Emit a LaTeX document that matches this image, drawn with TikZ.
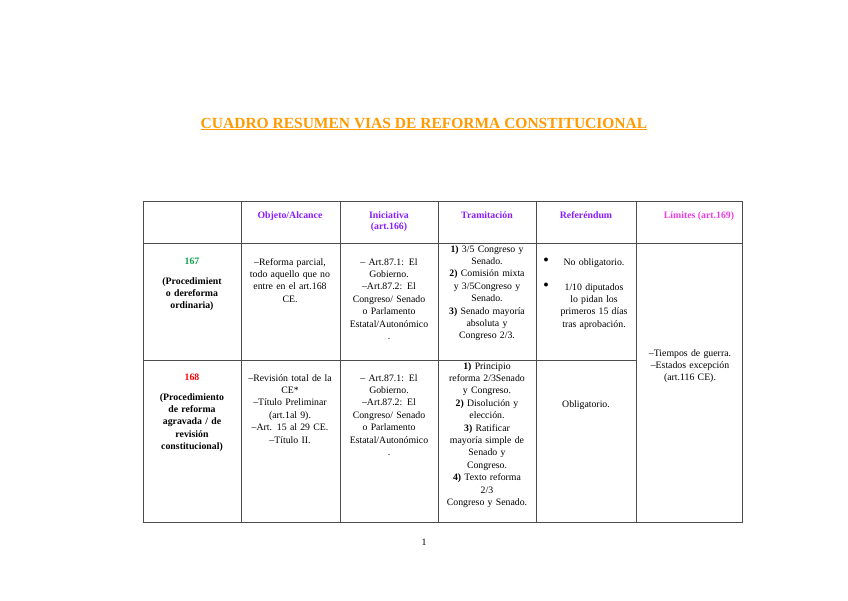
\documentclass[tikz,border=0pt]{standalone}
\usepackage{fontspec}
\setmainfont{Liberation Serif}
\begin{document}
\begin{tikzpicture}[x=1pt,y=-1pt,
  cell/.style={anchor=north,align=center,inner sep=0pt,font=\fontsize{9.8}{12.4}\selectfont},
  hdr/.style={cell,font=\fontsize{9.8}{11}\selectfont\bfseries,text=purp},
  grid/.style={draw=black!70,line width=0.8pt}]
\definecolor{purp}{HTML}{8A1CFF}
\definecolor{mag}{HTML}{F03CE6}
\definecolor{grn}{HTML}{12A050}
\definecolor{org}{HTML}{FF9A00}
\useasboundingbox (0,0) rectangle (848,600);
\node[font=\fontsize{15.5}{17}\selectfont\bfseries,text=org] (title) at (424,124) {\underline{CUADRO RESUMEN VIAS DE REFORMA CONSTITUCIONAL}};
% grid
\draw[grid] (143,201) rectangle (742,522);
\foreach \x in {241,340,438,536,636} \draw[grid] (\x,201) -- (\x,522);
\draw[grid] (143,243) -- (742,243);
\draw[grid] (143,360) -- (636,360);
% headers
\node[hdr] (h1) at (290,211) {Objeto/Alcance};
\node[hdr] (h2) at (389,211) {Iniciativa\\(art.166)};
\node[hdr] (h3) at (487,211) {Tramitación};
\node[hdr] (h4) at (586,211) {Referéndum};
\node[hdr,text=mag] (h5) at (699,211) {Límites (art.169)};
% row 1
\node[cell,text width=80] (a1) at (192,258) {\textcolor{grn}{\textbf{167}}\\[7pt]\textbf{(Procedimient\\o dereforma\\ordinaria)}};
\node[cell,text width=96] (b1) at (290,258) {--Reforma parcial,\\todo aquello que no\\entre en el art.168\\CE.};
\node[cell,text width=96] (c1) at (389,258) {-- Art.87.1: El\\Gobierno.\\--Art.87.2: El\\Congreso/ Senado\\o Parlamento\\Estatal/Autonómico\\.};
\node[cell,text width=96] (d1) at (487,245) {\textbf{1)} 3/5 Congreso y\\Senado.\\\textbf{2)} Comisión mixta\\y 3/5Congreso y\\Senado.\\\textbf{3)} Senado mayoría\\absoluta y\\Congreso 2/3.};
\node[cell] (e1b) at (546,258) {$\bullet$};
\node[cell,text width=70] (e1) at (594,258) {No obligatorio.};
\node[cell] (e2b) at (546,283) {$\bullet$};
\node[cell,text width=70] (e2) at (594,283) {1/10 diputados\\lo pidan los\\primeros 15 días\\tras aprobación.};
\node[cell,text width=100] (f1) at (690,349) {--Tiempos de guerra.\\--Estados excepción\\(art.116 CE).};
% row 2
\node[cell,text width=90] (a2) at (192,374) {\textcolor{red}{\textbf{168}}\\[7pt]\textbf{(Procedimiento\\de reforma\\agravada / de\\revisión\\constitucional)}};
\node[cell,text width=98] (b2) at (290,374) {--Revisión total de la\\CE*\\--Título Preliminar\\(art.1al 9).\\--Art. 15 al 29 CE.\\--Título II.};
\node[cell,text width=96] (c2) at (389,374) {-- Art.87.1: El\\Gobierno.\\--Art.87.2: El\\Congreso/ Senado\\o Parlamento\\Estatal/Autonómico\\.};
\node[cell,text width=96] (d2) at (487,362) {\textbf{1)} Principio\\reforma 2/3Senado\\y Congreso.\\\textbf{2)} Disolución y\\elección.\\\textbf{3)} Ratificar\\mayoría simple de\\Senado y\\Congreso.\\\textbf{4)} Texto reforma\\2/3\\Congreso y Senado.};
\node[cell] (e3) at (586,400) {Obligatorio.};
\node[cell] (pg) at (424,539) {1};
\end{tikzpicture}
\end{document}
